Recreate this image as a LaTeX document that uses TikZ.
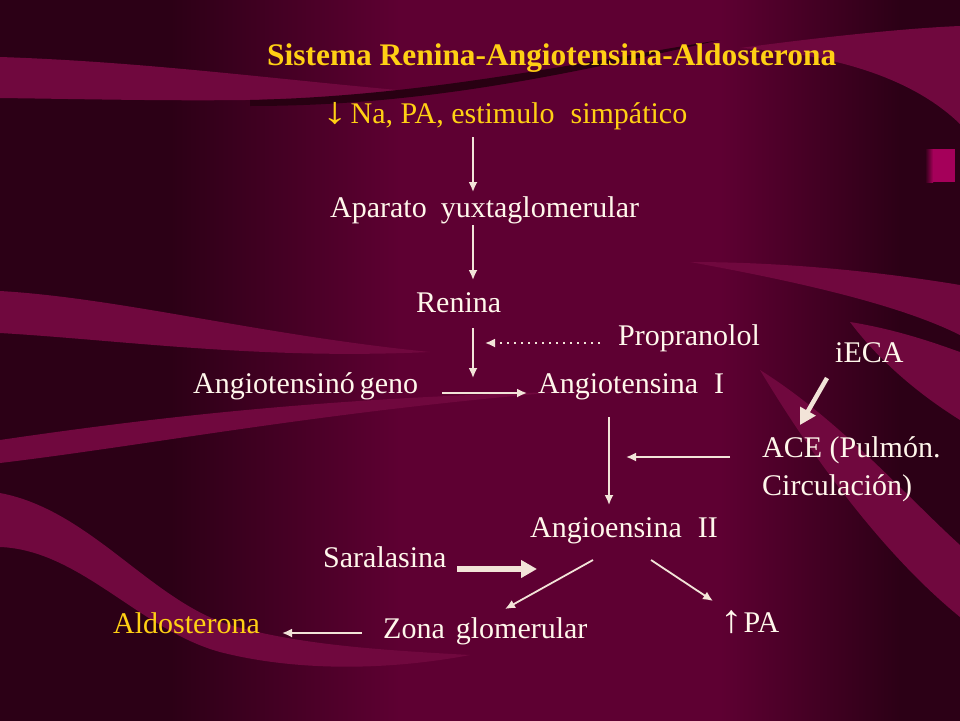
\documentclass[tikz,border=0pt]{standalone}
\usepackage{fontspec}
\setmainfont{Liberation Serif}
\usetikzlibrary{arrows.meta}
\definecolor{bgdark}{RGB}{44,0,22}
\definecolor{bgmain}{RGB}{94,0,50}
\definecolor{bgband}{RGB}{112,8,62}
\definecolor{bgshadow}{RGB}{40,0,18}
\definecolor{sqpink}{RGB}{165,0,90}
\definecolor{cream}{RGB}{255,247,235}
\definecolor{arrcol}{RGB}{242,228,216}
\definecolor{gold}{RGB}{255,208,20}

\begin{document}
\begin{tikzpicture}[x=1pt,y=-1pt,
  txt/.style={anchor=base west,inner sep=0pt,text=cream,font=\fontsize{30}{34}\selectfont},
  gold txt/.style={txt,text=gold},
  band/.style={fill=bgband},
  arr/.style={draw=arrcol,line width=1.8pt,-{Latex[length=10pt,width=9pt]}},
  fat arr/.style={draw=arrcol,line width=5.5pt,-{Triangle[length=16pt,width=17pt]}}]
\useasboundingbox (0,0) rectangle (960,720);
\fill [bgmain] (-5,-5) rectangle (965,725);
\fill [bgdark] (-5,-5) rectangle (172,725);
\fill [bgdark] (898,-5) rectangle (965,725);
\shade [left color=bgdark, right color=bgmain] (170,-5) rectangle (400,725);
\shade [left color=bgmain, right color=bgdark] (720,-5) rectangle (900,725);
\fill [band] (0,57) .. controls (150,62) and (280,80) .. (420,92) .. controls (280,104) and (150,100) .. (0,98) -- cycle;
\fill [band] (740,48) .. controls (830,36) and (910,28) .. (960,26) -- (960,124) .. controls (920,85) and (850,55) .. (740,48) -- cycle;
\fill [bgshadow] (250,100) .. controls (420,96) and (560,66) .. (720,40) .. controls (560,76) and (420,106) .. (250,106) -- cycle;
\fill [band] (0,291) .. controls (120,298) and (260,335) .. (430,352) .. controls (260,360) and (120,340) .. (0,333) -- cycle;
\fill [band] (0,440) .. controls (150,418) and (320,398) .. (560,392) .. controls (320,412) and (150,445) .. (0,463) -- cycle;
\fill [band] (0,493) .. controls (90,510) and (150,600) .. (230,625) .. controls (300,645) and (380,650) .. (470,655) .. controls (380,672) and (290,670) .. (220,652) .. controls (140,630) and (80,550) .. (0,547) -- cycle;
\fill [band] (690,262) .. controls (800,262) and (900,275) .. (960,285) -- (960,335) .. controls (900,305) and (800,282) .. (690,262) -- cycle;
\fill [band] (850,322) .. controls (900,330) and (940,345) .. (960,352) -- (960,420) .. controls (920,395) and (880,362) .. (850,322) -- cycle;
\fill [band] (760,370) .. controls (840,420) and (910,500) .. (960,545) -- (960,617) .. controls (890,560) and (820,470) .. (760,370) -- cycle;
\shade [left color=bgdark, right color=sqpink] (925,149) rectangle (933,182);
\fill [sqpink] (933,149) rectangle (955,182);

\node [gold txt, font=\bfseries\fontsize{31.4}{34}\selectfont] (title) at (267,65) {Sistema Renina-Angiotensina-Aldosterona};
\node [gold txt] (na) at (322,123) {\scalebox{1.7}[1.25]{↓}\hspace{3pt}Na, PA, estimulo\hspace{16pt}simpático};
\node [txt] (apa) at (330,217) {Aparato\hspace{14pt}yuxtaglomerular};
\node [txt] (ren) at (416,312) {Renina};
\node [txt] (prop) at (618,345) {Propranolol};
\node [txt] (agn) at (193,393) {Angiotensinó\,geno};
\node [txt] (ang1) at (538,393) {Angiotensina\hspace{16pt}I};
\node [txt] (ieca) at (835,362) {iECA};
\node [txt] (ace) at (762,457) {ACE (Pulmón.};
\node [txt] (circ) at (762,495) {Circulación)};
\node [txt] (ang2) at (530,537) {Angioensina\hspace{16pt}II};
\node [txt] (sara) at (323,567) {Saralasina};
\node [txt] (pa) at (720,632) {\scalebox{1.5}[1.3]{↑}\hspace{1pt}PA};
\node [txt] (zona) at (383,638) {Zona\hspace{11pt}glomerular};
\node [gold txt] (aldo) at (113,633) {Aldosterona};

\draw [arr] ([shift={(151,14)}]na.base west) -- ([shift={(143,-25)}]apa.base west);
\draw [arr] ([shift={(143,8)}]apa.base west) -- ([shift={(57,-32)}]ren.base west);
\draw [arr] ([shift={(57,16)}]ren.base west) -- ([shift={(-65,-15)}]ang1.base west);
\draw [arr, dash pattern=on 2pt off 5pt] ([shift={(-18,-2)}]prop.base west) -- ([shift={(-133,-2)}]prop.base west);
\draw [arr] ([shift={(249,0)}]agn.base west) -- ([shift={(-11,0)}]ang1.base west);
\draw [fat arr, line width=4.5pt] ([shift={(-8,16)}]ieca.base west) -- ([shift={(38,-32)}]ace.base west);
\draw [arr] ([shift={(-32,0)}]ace.base west) -- ([shift={(-136,0)}]ace.base west);
\draw [arr] ([shift={(71,24)}]ang1.base west) -- ([shift={(79,-32)}]ang2.base west);
\draw [fat arr] ([shift={(134,2)}]sara.base west) -- ([shift={(7,32)}]ang2.base west);
\draw [arr] ([shift={(63,23)}]ang2.base west) -- ([shift={(122,-29)}]zona.base west);
\draw [arr] ([shift={(121,23)}]ang2.base west) -- ([shift={(-7,-31)}]pa.base west);
\draw [arr] ([shift={(-21,-5)}]zona.base west) -- ([shift={(169,0)}]aldo.base west);
\end{tikzpicture}
\end{document}
